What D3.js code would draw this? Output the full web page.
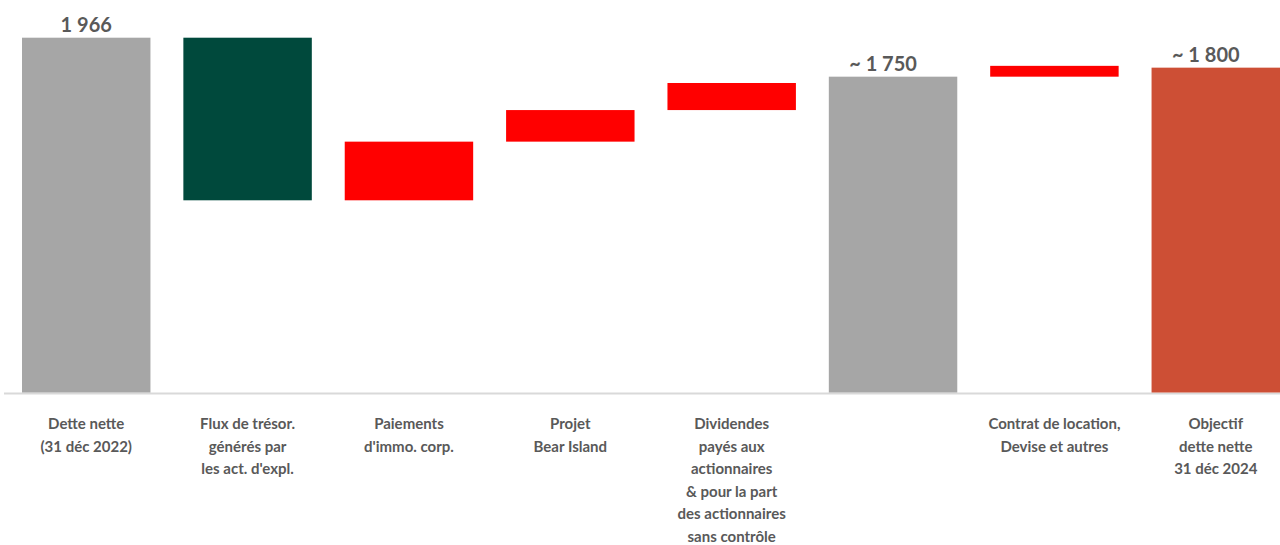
<!DOCTYPE html>
<html><head><meta charset="utf-8">
<script src="https://cdn.jsdelivr.net/npm/d3@7"></script>
<style>html,body{margin:0;padding:0;background:#fff;}svg{display:block;}</style>
</head><body><svg id="c" width="1280" height="545"></svg>
<script>
const categories = [
  ["Dette nette","(31 déc 2022)"],
  ["Flux de trésor.","générés par","les act. d'expl."],
  ["Paiements","d'immo. corp."],
  ["Projet","Bear Island"],
  ["Dividendes","payés aux","actionnaires","& pour la part","des actionnaires","sans contrôle"],
  [],
  ["Contrat de location,","Devise et autres"],
  ["Objectif","dette nette","31 déc 2024"]
];
const barLow  = [0, 1065, 1065, 1390, 1565, 0, 1750, 0];
const barHigh = [1966, 1966, 1390, 1565, 1715, 1750, 1810, 1800];
const barKind = ["total","decrease","increase","increase","increase","total","increase","target"];
const valueLabels = ["1 966", "", "", "", "", "~ 1 750", "", "~ 1 800"];

const colors = {total:"#a6a6a6", decrease:"#00493c", increase:"#ff0000", target:"#cd4f35"};
const svg = d3.select("#c");
const baseY = 392.5;
const x = d3.scaleBand().domain(d3.range(categories.length)).range([22, 1280]).paddingInner(0.204).paddingOuter(0);
const y = d3.scaleLinear().domain([0, 1966]).range([baseY, 37.7]);

svg.append("line").attr("x1",4).attr("x2",1280).attr("y1",baseY+1).attr("y2",baseY+1)
  .attr("stroke","#d9d9d9").attr("stroke-width",2);

svg.selectAll("rect.bar").data(d3.range(categories.length)).join("rect")
  .attr("class","bar")
  .attr("x", i => x(i)).attr("width", x.bandwidth())
  .attr("y", i => y(barHigh[i])).attr("height", i => y(barLow[i]) - y(barHigh[i]))
  .attr("fill", i => colors[barKind[i]]);

svg.selectAll("text.val").data(d3.range(categories.length).filter(i => valueLabels[i])).join("text")
  .attr("class","val")
  .attr("x", i => x(i) + x.bandwidth()/2 + (valueLabels[i].startsWith("~") ? -10 : 0))
  .attr("y", i => y(barHigh[i]) - 6)
  .attr("text-anchor","middle")
  .attr("font-family","Lato, 'Open Sans', sans-serif")
  .attr("font-weight","bold").attr("font-size","20px").attr("fill","#595959")
  .text(i => valueLabels[i]);

const g = svg.selectAll("text.cat").data(d3.range(categories.length)).join("text")
  .attr("class","cat")
  .attr("text-anchor","middle")
  .attr("font-family","Lato, 'Open Sans', sans-serif")
  .attr("font-weight","bold").attr("font-size","15px").attr("fill","#595959");
g.each(function(i){
  const t = d3.select(this);
  categories[i].forEach((line, k) => {
    t.append("tspan").attr("x", x(i) + x.bandwidth()/2).attr("y", 429 + k*22.6).text(line);
  });
});
</script></body></html>
